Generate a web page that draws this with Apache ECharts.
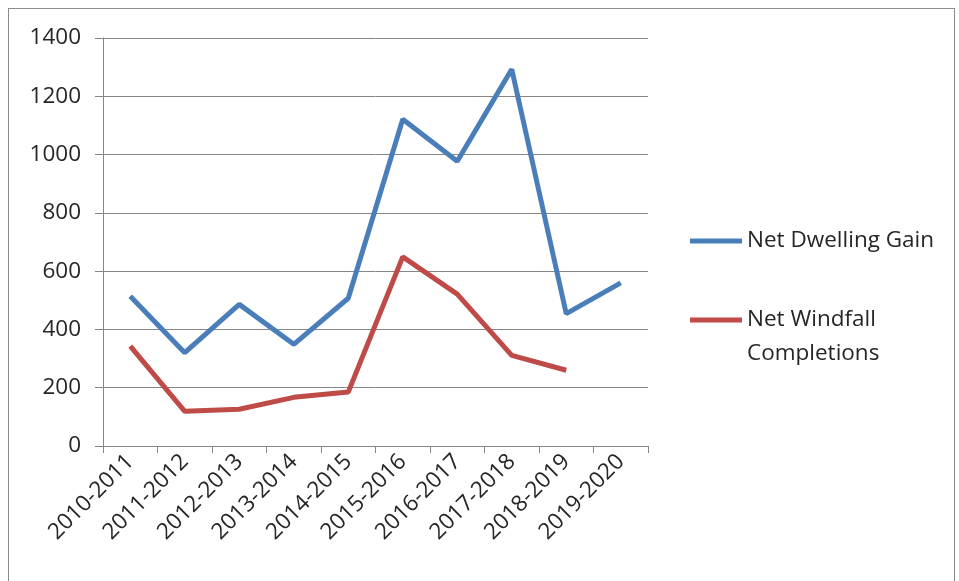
<!DOCTYPE html>
<html>
<head>
<meta charset="utf-8">
<script src="https://cdn.jsdelivr.net/npm/echarts@6/dist/echarts.min.js"></script>
<style>
html,body{margin:0;padding:0;background:#fff;}
#frame{position:absolute;left:8px;top:8px;width:947px;height:620px;border:1.5px solid #8c8c8c;border-bottom:none;box-sizing:border-box;}
#chart{position:absolute;left:0;top:0;width:959px;height:581px;}
</style>
</head>
<body>
<div id="frame"></div>
<div id="chart"></div>
<script>
const categories = ['2010-2011','2011-2012','2012-2013','2013-2014','2014-2015','2015-2016','2016-2017','2017-2018','2018-2019','2019-2020'];
const netDwellingGain = [514, 320, 486, 349, 507, 1121, 977, 1293, 454, 560];
const netWindfallCompletions = [343, 119, 126, 167, 185, 649, 521, 311, 260, null];
const yTicks = { min: 0, max: 1400, interval: 200 };

const FONT = 'Open Sans';
const FS = 22.5;
const chart = echarts.init(document.getElementById('chart'));
chart.setOption({
  animation: false,
  backgroundColor: 'transparent',
  grid: { left: 103, right: 311, top: 38, bottom: 135 },
  legend: [
    {
      data: ['Net Dwelling Gain'],
      left: 690, top: 224, padding: 0,
      icon: 'rect', itemWidth: 52, itemHeight: 5, itemGap: 0,
      textStyle: { fontFamily: FONT, fontSize: FS, color: '#262626', lineHeight: 34 }
    },
    {
      data: ['Net Windfall\nCompletions'],
      left: 690, top: 269, padding: 0,
      icon: 'rect', itemWidth: 52, itemHeight: 5, itemGap: 0,
      formatter: function (name) { return ' \n' + name; },
      textStyle: { fontFamily: FONT, fontSize: FS, color: '#262626', lineHeight: 34 }
    }
  ],
  xAxis: {
    type: 'category',
    data: categories,
    boundaryGap: true,
    axisLine: { lineStyle: { color: '#868686', width: 1 } },
    axisTick: { show: true, length: 7, lineStyle: { color: '#868686' } },
    axisLabel: { rotate: 45, margin: 12, fontFamily: FONT, fontSize: FS, color: '#262626', interval: 0 }
  },
  yAxis: {
    type: 'value',
    min: yTicks.min, max: yTicks.max, interval: yTicks.interval,
    axisLine: { show: true, lineStyle: { color: '#868686', width: 1 } },
    axisTick: { show: true, length: 8, lineStyle: { color: '#868686' } },
    splitLine: { lineStyle: { color: '#868686', width: 1 } },
    axisLabel: { margin: 22, fontFamily: FONT, fontSize: FS, color: '#262626', formatter: function (v) { return String(v); } }
  },
  series: [
    {
      name: 'Net Dwelling Gain', type: 'line', data: netDwellingGain,
      symbol: 'none', itemStyle: { color: '#4a7ebb' },
      lineStyle: { color: '#4a7ebb', width: 5 }
    },
    {
      name: 'Net Windfall\nCompletions', type: 'line', data: netWindfallCompletions,
      symbol: 'none', itemStyle: { color: '#be4b48' },
      lineStyle: { color: '#be4b48', width: 5 }
    }
  ]
});
</script>
</body>
</html>
